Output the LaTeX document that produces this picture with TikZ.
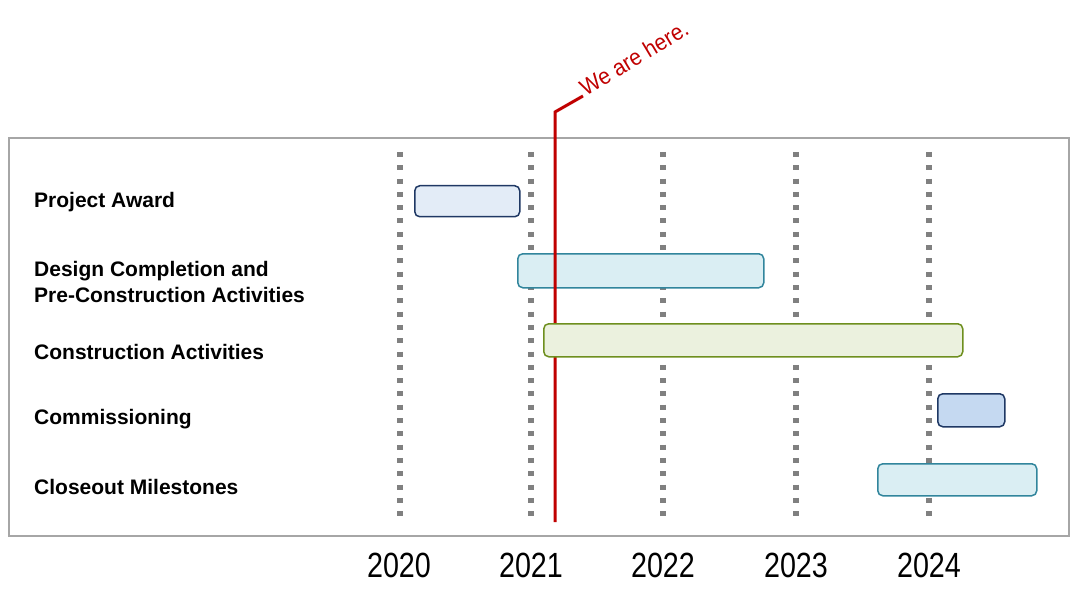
\documentclass[tikz,border=0pt]{standalone}
\usepackage{fontspec}
\setmainfont{Liberation Sans}
\newfontfamily\yearfont[FakeStretch=0.82]{Liberation Sans}
\newfontfamily\herefont[FakeStretch=0.92]{Liberation Sans}
\begin{document}
\begin{tikzpicture}[x=1pt,y=-1pt,
  lbl/.style={anchor=west,align=left,font=\fontsize{21}{26}\selectfont\bfseries,inner sep=0pt},
  yr/.style={font=\yearfont\fontsize{35}{40}\selectfont,inner sep=0pt},
  grid/.style={line width=6pt,dash pattern=on 5pt off 8.3pt},
  bar/.style={draw,rounded corners=5pt,line width=1.5pt,anchor=north west,inner sep=0pt}]
\definecolor{navyb}{HTML}{1F3864}
\definecolor{tealb}{HTML}{31859C}
\definecolor{oliveb}{HTML}{6E8F1E}
\definecolor{redl}{HTML}{C00000}
\useasboundingbox (0,0) rectangle (1080,599);
% frame
\node[draw={rgb,255:red,166;green,166;blue,166},line width=2pt,minimum width=1060pt,minimum height=398pt,anchor=north west,inner sep=0pt] (frame) at (8,137) {};
% gridlines
\foreach \x/\n in {400/a,531/b,663/c,796/d,929/e}{
  \coordinate (gt\n) at (\x,152);
  \coordinate (gb\n) at (\x,520);
  \draw[grid,draw={rgb,255:red,128;green,128;blue,128}] (gt\n) -- (gb\n);
}
% years
\node[yr] (y20) at (399,565) {2020};
\node[yr] (y21) at (531,565) {2021};
\node[yr] (y22) at (663,565) {2022};
\node[yr] (y23) at (796,565) {2023};
\node[yr] (y24) at (929,565) {2024};
% labels
\node[lbl] (l1) at (34,202) {Project Award};
\node[lbl] (l2) at (34,282) {Design Completion and\\Pre-Construction Activities};
\node[lbl] (l3) at (34,352) {Construction Activities};
\node[lbl] (l4) at (34,419) {Commissioning};
\node[lbl] (l5) at (34,487) {Closeout Milestones};
% bars
\node[bar,draw=navyb,fill={rgb,255:red,227;green,236;blue,247},minimum width=105pt,minimum height=31pt] (b1) at (414,185) {};
\node[bar,draw=tealb,fill={rgb,255:red,218;green,238;blue,243},minimum width=246pt,minimum height=34pt] (b2) at (517,253) {};
% red line
\coordinate (r0) at (555,522);
\coordinate (r1) at (555,112);
\coordinate (r2) at (583,96);
\draw[redl,line width=3pt] (r0) -- (r1) -- (r2);
\node[bar,draw=oliveb,fill={rgb,255:red,235;green,241;blue,222},minimum width=419pt,minimum height=33pt] (b3) at (543,323) {};
\node[bar,draw=navyb,fill={rgb,255:red,197;green,217;blue,241},minimum width=67pt,minimum height=33pt] (b4) at (937,393) {};
\node[bar,draw=tealb,fill={rgb,255:red,218;green,238;blue,243},minimum width=159pt,minimum height=32pt] (b5) at (877,463) {};
\node[redl,font=\herefont\fontsize{23}{26}\selectfont,anchor=south west,inner sep=0pt,rotate=31] (here) at (586,97) {We are here.};
\end{tikzpicture}
\end{document}
